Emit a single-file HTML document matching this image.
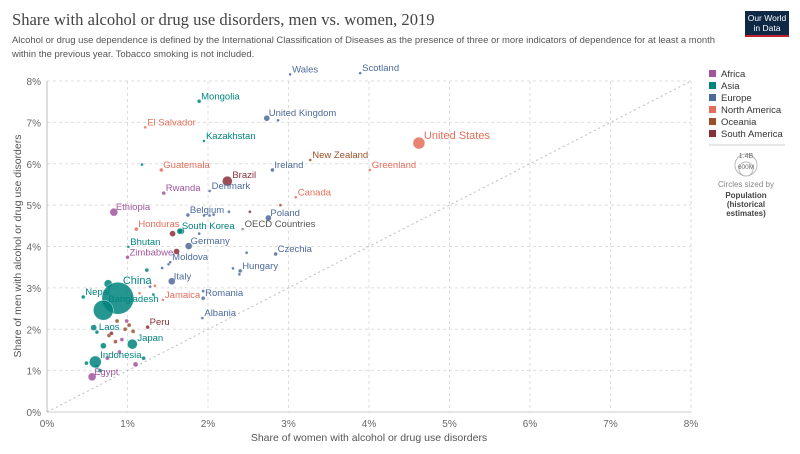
<!DOCTYPE html>
<html><head><meta charset="utf-8"><style>
body{margin:0;background:#fff;font-family:"Liberation Sans",sans-serif;}
#wrap{position:relative;width:800px;height:454px;overflow:hidden}
h1{position:absolute;left:12px;top:10px;margin:0;font-family:"Liberation Serif",serif;font-weight:normal;font-size:16.6px;color:#444}
.sub{position:absolute;left:12px;top:34px;width:705px;font-size:9.45px;line-height:13.5px;color:#555}
.logo{position:absolute;left:745px;top:11px;width:44px;height:26px;background:#0f2846;border-bottom:2px solid #c0202f;color:#fff;font-size:8.5px;text-align:center;line-height:10px;padding-top:2px;box-sizing:border-box}
</style></head><body>
<div id="wrap">
<h1>Share with alcohol or drug use disorders, men vs. women, 2019</h1>
<div class="sub">Alcohol or drug use dependence is defined by the International Classification of Diseases as the presence of three or more indicators of dependence for at least a month within the previous year. Tobacco smoking is not included.</div>
<div class="logo">Our World<br>in Data</div>
<svg id="chart" width="800" height="454" style="position:absolute;left:0;top:0"></svg>
</div>
<script>
const regions=["Africa","Asia","Europe","North America","Oceania","South America"];
const regionColors=["#a2559c","#00847e","#4c6a9c","#e56e5a","#9a5129","#883039"];
const xTicks=[0,1,2,3,4,5,6,7,8];
const yTicks=[0,1,2,3,4,5,6,7,8];
// name, women %, men %, region index (-1 = aggregate), radius
const names=["Wales","Scotland","Mongolia","United Kingdom","El Salvador","Kazakhstan","United States","New Zealand","Greenland","Ireland","Guatemala","Brazil","Canada","Rwanda","Denmark","Ethiopia","Belgium","Poland","Honduras","South Korea","OECD Countries","Bhutan","Germany","Czechia","Zimbabwe","Moldova","Italy","Hungary","Nepal","China","Bangladesh","Jamaica","Romania","Albania","Peru","Laos","Japan","Indonesia","Egypt"];
const womenVals=[3.02,3.89,1.89,2.73,1.22,1.95,4.62,3.27,4.01,2.80,1.42,2.24,3.09,1.45,2.02,0.83,1.75,2.75,1.11,1.65,2.43,1.01,1.76,2.84,1.00,1.53,1.55,2.40,0.45,0.88,0.70,1.44,1.94,1.93,1.25,0.62,1.06,0.60,0.56];
const menVals=[8.16,8.19,7.51,7.10,6.88,6.55,6.50,6.09,5.85,5.85,5.85,5.58,5.19,5.29,5.34,4.83,4.76,4.69,4.42,4.37,4.42,3.99,4.01,3.82,3.74,3.62,3.16,3.41,2.78,2.75,2.46,2.71,2.75,2.27,2.05,1.93,1.64,1.21,0.85];
const regionIdx=[2,2,1,2,3,1,3,4,3,2,3,5,3,0,2,0,2,2,3,1,-1,1,2,2,0,2,2,2,1,1,1,3,2,2,5,1,1,1,0];
const sizes=[1.5,1.5,2,3,1.5,1.5,6,1.5,1.5,2,2,5,1.5,2,1.5,4,2,3,2,3,1.5,1.5,3.5,2,2,1.5,3.5,2,2,16,10,1.5,2,1.5,2,2,5,6,4];
// unlabeled countries
const otherWomen=[2.87,2.07,1.18,2.26,2.52,2.90,1.95,2.02,1.56,1.67,1.89,1.61,2.48,2.31,2.39,1.24,1.43,1.51,0.76,1.28,1.34,1.94,1.15,1.32,0.58,0.87,0.77,0.85,0.80,0.97,1.02,1.07,0.93,0.70,0.49,1.10,0.75,0.66,0.90,1.20,0.99,0.62];
const otherMen=[7.05,4.77,5.98,4.84,4.84,5.00,4.75,4.75,4.31,4.37,4.31,3.88,3.85,3.47,3.33,3.43,3.48,3.57,3.10,3.03,3.05,2.92,2.87,2.84,2.04,2.20,1.85,1.70,1.90,2.00,2.10,1.95,1.75,1.60,1.18,1.15,1.30,1.00,1.45,1.30,2.20,1.10];
const otherRegion=[2,2,1,2,5,4,2,2,5,1,2,5,2,2,2,1,2,2,1,2,3,2,3,1,1,4,4,4,5,4,4,4,0,1,1,0,0,1,0,1,0,1];
const otherSizes=[1.5,1.5,1.5,1.5,1.5,1.5,1.5,1.5,3,3,1.5,3,1.5,1.5,1.5,2,1.5,1.5,4,1.5,1.5,1.5,1.5,1.5,3,2,2,2,2,2,2,2,2,3,2,2.5,2,2,2,2,2,2];

const L=47,R=691,T=81,B=412,NS="http://www.w3.org/2000/svg";
const xs=v=>L+(v/8)*(R-L), ys=v=>B-(v/8)*(B-T);
const svg=document.getElementById('chart');
function mk(t,a,p){const e=document.createElementNS(NS,t);for(const k in a)e.setAttribute(k,a[k]);(p||svg).appendChild(e);return e;}
xTicks.forEach(v=>{
  if(v>0){const g=mk('line',{x1:xs(v),x2:xs(v),y1:T,y2:B,stroke:'#ddd','stroke-dasharray':'3,3'});
  
  }
  const t=mk('text',{x:xs(v),y:427,'text-anchor':'middle','font-size':10,fill:'#666'});t.textContent=v+'%';
  
  
});
yTicks.forEach(v=>{
  if(v>0){const g=mk('line',{x1:L,x2:R,y1:ys(v),y2:ys(v),stroke:'#ddd','stroke-dasharray':'3,3'});
  
  }
  const t=mk('text',{x:41,y:ys(v)+4,'text-anchor':'end','font-size':10,fill:'#666'});t.textContent=v+'%';
  
  
});
const ax=mk('line',{x1:L,x2:L,y1:T,y2:B,stroke:'#bbb'});


const ax2=mk('line',{x1:L,x2:R,y1:B,y2:B,stroke:'#ccc'});


const diag=mk('line',{x1:xs(0),y1:ys(0),x2:xs(8),y2:ys(8),stroke:'#bbb','stroke-dasharray':'2,3'});


const xt=mk('text',{x:369,y:441,'text-anchor':'middle','font-size':10.5,fill:'#555'});xt.textContent='Share of women with alcohol or drug use disorders';


const yt=mk('text',{x:0,y:0,'text-anchor':'middle','font-size':10.5,fill:'#555',transform:'translate(21,246) rotate(-90)'});yt.textContent='Share of men with alcohol or drug use disorders';


otherWomen.forEach((w,i)=>{
  const c=mk('circle',{cx:xs(w),cy:ys(otherMen[i]),r:otherSizes[i],fill:regionColors[otherRegion[i]],'fill-opacity':0.85,stroke:'#fff','stroke-width':0.3});
  
  
});
const order=names.map((n,i)=>i).sort((a,b)=>sizes[b]-sizes[a]);
order.forEach(i=>{
  const col=regionIdx[i]<0?'#888':regionColors[regionIdx[i]];
  const c=mk('circle',{cx:xs(womenVals[i]),cy:ys(menVals[i]),r:sizes[i],fill:col,'fill-opacity':0.85,stroke:'#fff','stroke-width':0.4});
  
  
});
names.forEach((n,i)=>{
  const col=regionIdx[i]<0?'#555':regionColors[regionIdx[i]];
  const big=sizes[i]>=5;
  const dx=big?Math.min(sizes[i],4)+1:2, dy=big?-sizes[i]+2:-2;
  const t=mk('text',{x:xs(womenVals[i])+dx,y:ys(menVals[i])+dy,'font-size':(i==6||i==29)?11:9.5,fill:col});
  t.textContent=n;
  
  
});
// legend
regions.forEach((r,i)=>{
  const y=70+i*12;
  const s=mk('rect',{x:709,y:y,width:7,height:7,fill:regionColors[i]});
  
  
  const t=mk('text',{x:721,y:y+7,'font-size':9.5,fill:'#333'});t.textContent=r;
  
  
});
const sep=mk('line',{x1:709,x2:785,y1:145,y2:145,stroke:'#ccc'});


const c1=mk('circle',{cx:746,cy:165,r:11,fill:'none',stroke:'#bbb'});


const c2=mk('circle',{cx:746,cy:169,r:7,fill:'none',stroke:'#bbb'});


[['1.4B',158,7],['600M',169,6.5]].forEach(a=>{const t=mk('text',{x:746,y:a[1],'text-anchor':'middle','font-size':a[2],fill:'#666'});t.textContent=a[0];

});
[['Circles sized by',187,'#888','normal'],['Population',198,'#444','bold'],['(historical',207,'#444','bold'],['estimates)',216,'#444','bold']].forEach(a=>{
  const t=mk('text',{x:746,y:a[1],'text-anchor':'middle','font-size':8,fill:a[2],'font-weight':a[3]});t.textContent=a[0];
  
  
});
</script>
</body></html>
